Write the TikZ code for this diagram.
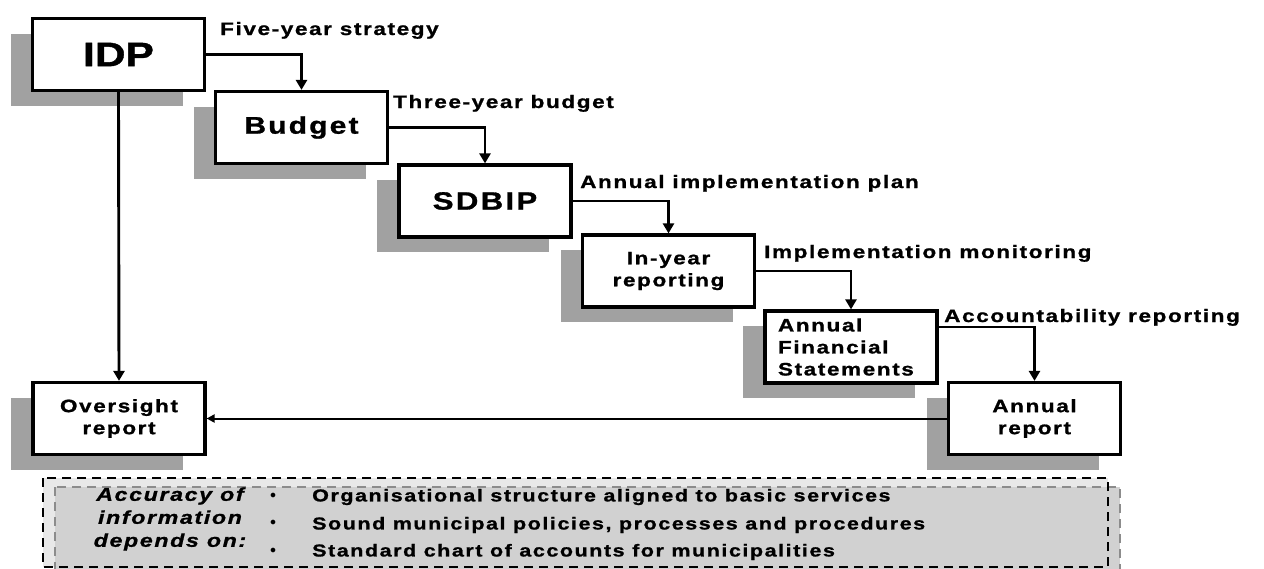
\documentclass[tikz,border=0pt]{standalone}
\usepackage{fontspec}
\setmainfont{Liberation Sans}[FakeStretch=1.25, LetterSpace=9, FakeBold=1.1]
\newfontfamily\bigfont{Liberation Sans}[FakeStretch=1.25, FakeBold=1.1]
\usetikzlibrary{shadows,arrows.meta,positioning}
\begin{document}
\begin{tikzpicture}[x=1pt,y=-1pt,
  stage/.style={draw=black, line width=3.2pt, fill=white, minimum width=172pt, minimum height=72pt,
    align=center, inner sep=0pt, font=\bfseries\fontsize{18}{22}\selectfont,
    drop shadow={shadow xshift=-22pt, shadow yshift=-15pt, fill=black!37, opacity=1}},
  flow/.style={line width=2.9pt, -{Triangle[length=10pt,width=11pt]}},
  lab/.style={anchor=base west, inner sep=0pt, font=\bfseries\fontsize{18}{21}\selectfont},
  note/.style={inner sep=0pt, font=\bfseries\fontsize{17.2}{20}\selectfont}]
\useasboundingbox (0,0) rectangle (1264,568);
% stages
\node[stage, font=\bigfont\bfseries\fontsize{34}{40}\selectfont] (idp) at (118.5,54.5) {IDP};
\node[stage, font=\bfseries\fontsize{24}{28}\selectfont] (bud) at (301.5,127.5) {Budget};
\node[stage, font=\bfseries\fontsize{25}{29}\selectfont] (sdb) at (485,201) {SDBIP};
\node[stage] (iyr) at (668.5,271) {In-year\\reporting};
\node[stage, align=left, text width=146pt] (afs) at (851,347) {Annual\\Financial\\Statements};
\node[stage] (ar) at (1034.5,418.5) {Annual\\report};
\node[stage] (ovs) at (119,418.5) {Oversight\\report};
% connectors
\draw[flow] (idp.east) -| (bud.north);
\draw[flow] (bud.east) -| (sdb.north);
\draw[flow] (sdb.east) -| (iyr.north);
\draw[flow] (iyr.east) -| (afs.north);
\draw[flow] ([yshift=20pt]afs.east) -| (ar.north);
\draw[flow] (idp.south) -- (ovs.north);
\draw[line width=2pt, -{Triangle[length=8pt,width=8pt]}] (ar.west) -- (ovs.east);
% labels
\node[lab] (l1) at (220,35) {Five-year strategy};
\node[lab] (l2) at (393,108) {Three-year budget};
\node[lab] (l3) at (580,188) {Annual implementation plan};
\node[lab] (l4) at (764,258) {Implementation monitoring};
\node[lab] (l5) at (944,322) {Accountability reporting};
% bottom box
\fill[black!9] (43,478) rectangle (1108,567);
\draw[black!45, line width=1.2pt, dash pattern=on 9pt off 6pt, fill=black!18] (55,487) rectangle (1120,590);
\draw[black, line width=1.8pt, dash pattern=on 9pt off 6pt] (43,478) rectangle (1108,567);
\node[note, font=\bfseries\itshape\fontsize{18.5}{23}\selectfont, align=center] (acc) at (170,519) {Accuracy of\\information\\depends on:};
\node[note, font=\bfseries\fontsize{12}{12}\selectfont] (b1) at (273,496) {$\bullet$};
\node[note, font=\bfseries\fontsize{12}{12}\selectfont] (b2) at (273,523) {$\bullet$};
\node[note, font=\bfseries\fontsize{12}{12}\selectfont] (b3) at (273,551) {$\bullet$};
\node[note, anchor=west] (t1) at (312,497) {Organisational structure aligned to basic services};
\node[note, anchor=west] (t2) at (312,525) {Sound municipal policies, processes and procedures};
\node[note, anchor=west] (t3) at (312,552) {Standard chart of accounts for municipalities};
\end{tikzpicture}
\end{document}
